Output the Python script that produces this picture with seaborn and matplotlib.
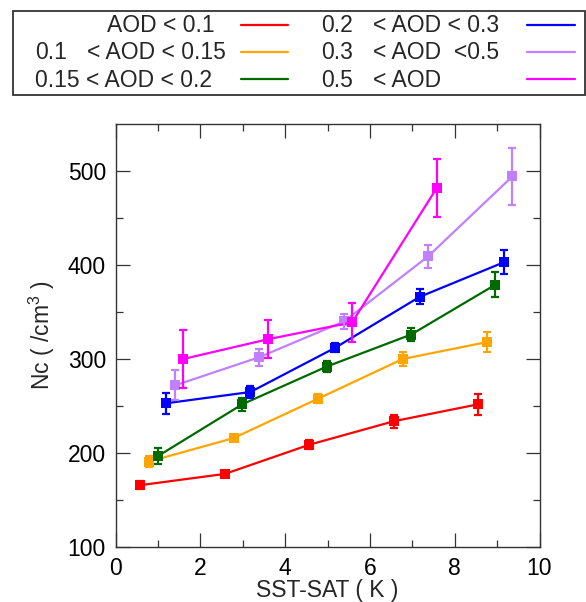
import matplotlib
matplotlib.use("Agg")
import matplotlib.pyplot as plt
from matplotlib.lines import Line2D
from matplotlib.patches import Rectangle
import numpy as np
import pandas as pd
import seaborn as sns

# Nc versus SST-SAT, binned by aerosol optical depth
groups = ["AOD < 0.1", "0.1 < AOD < 0.15", "0.15 < AOD < 0.2",
          "0.2 < AOD < 0.3", "0.3 < AOD < 0.5", "0.5 < AOD"]
colors = ["#ff0000", "#ffa500", "#006a00", "#0000ff", "#c080ff", "#ff00ff"]

sst_sat = [
    [0.58, 2.58, 4.57, 6.57, 8.56],
    [0.78, 2.78, 4.78, 6.77, 8.76],
    [1.00, 2.99, 4.98, 6.97, 8.96],
    [1.19, 3.18, 5.18, 7.17, 9.17],
    [1.40, 3.39, 5.39, 7.37, 9.36],
    [1.59, 3.59, 5.58, 7.58],
]
nc = [
    [166, 178, 209, 234, 252],
    [191, 216, 258, 300, 318],
    [197, 252, 292, 326, 379],
    [253, 265, 312, 366, 403],
    [272, 302, 340, 409, 494],
    [300, 321, 339, 482],
]
nc_err = [
    [4, 3, 5, 7, 11],
    [6, 3, 5, 7, 11],
    [8, 7, 6, 7, 13],
    [11, 6, 5, 8, 13],
    [16, 9, 8, 12, 30],
    [31, 20, 21, 31],
]

# legend text, split into the AOD lower bound and the rest of the range
legend_left = ["", "0.1", "0.15 < AOD < 0.2", "0.2", "0.3", "0.5"]
legend_right = ["AOD < 0.1", "< AOD < 0.15", "", "< AOD < 0.3", "< AOD  <0.5", "< AOD"]

xticks = [0, 2, 4, 6, 8, 10]
yticks = [100, 200, 300, 400, 500]

sns.set_theme(style="ticks")
plt.rcParams["font.family"] = ["Liberation Sans", "DejaVu Sans"]
plt.rcParams["mathtext.default"] = "regular"

W, H = 586, 602
fig = plt.figure(figsize=(W / 100, H / 100), dpi=100)
ax_bottom, ax_top = 547.3, 123.7
ax = fig.add_axes([115.7 / W, 1 - ax_bottom / H, (539.5 - 115.7) / W,
                   (ax_bottom - ax_top) / H])

rows = []
for g, xs, ys in zip(groups, sst_sat, nc):
    for xv, yv in zip(xs, ys):
        rows.append({"sst_sat": xv, "nc": yv, "group": g})
df = pd.DataFrame(rows)

sns.lineplot(data=df, x="sst_sat", y="nc", hue="group", hue_order=groups,
             palette=dict(zip(groups, colors)), estimator=None, sort=False,
             marker="s", markersize=6.5, markeredgewidth=0, linewidth=1.6,
             legend=False, ax=ax)

for xs, ys, es, c in zip(sst_sat, nc, nc_err, colors):
    ax.errorbar(xs, ys, yerr=es, fmt="none", ecolor=c, elinewidth=1.6,
                capsize=3, capthick=1.6)

ax.set_xlim(0, 10)
ax.set_ylim(100, 550)
ax.set_xticks(xticks)
ax.set_yticks(yticks)
ax.set_xticks(np.arange(1, 10, 2), minor=True)
ax.set_yticks(np.arange(150, 550, 100), minor=True)

spine_c = "#333333"
for s in ax.spines.values():
    s.set_color(spine_c)
    s.set_linewidth(1.0)
ax.tick_params(which="both", direction="in", top=True, right=True,
               color=spine_c, width=0.9, labelsize=16.5, labelcolor="black")
ax.tick_params(which="major", length=10, pad=7)
ax.tick_params(which="minor", length=5)

ax.set_xlabel("SST-SAT ( K )", fontsize=16.5)
ax.xaxis.label.set_va("baseline")
ax.xaxis.set_label_coords(0.5, -(596.5 - ax_bottom) / (ax_bottom - ax_top))
ax.set_ylabel("Nc ( /cm$^3$ )", fontsize=16.5, labelpad=8)

# legend box across the top of the figure
def fx(px):
    return px / W

def fy(py):
    return 1 - py / H

fig.add_artist(Rectangle((fx(12.7), fy(95)), fx(584.5) - fx(12.7), fy(10.7) - fy(95),
                         transform=fig.transFigure, fill=False,
                         edgecolor=spine_c, linewidth=1.3))

baselines = [32.3, 59.3, 86.8]
for i, (lt, rt, c) in enumerate(zip(legend_left, legend_right, colors)):
    col, row = divmod(i, 3)
    yb = baselines[row]
    if col == 0:
        if lt:
            fig.text(fx(35), fy(yb), lt, fontsize=16.5, va="baseline", ha="left")
        if rt:
            fig.text(fx(107 if i == 0 else 87), fy(yb), rt, fontsize=16.5,
                     va="baseline", ha="left")
        x0, x1 = 241, 288
    else:
        fig.text(fx(321), fy(yb), lt, fontsize=16.5, va="baseline", ha="left")
        fig.text(fx(373), fy(yb), rt, fontsize=16.5, va="baseline", ha="left")
        x0, x1 = 527, 575
    ymid = yb - 7.5
    fig.add_artist(Line2D([fx(x0), fx(x1)], [fy(ymid), fy(ymid)],
                          transform=fig.transFigure, color=c, linewidth=1.6))

fig.savefig("out.png", dpi=100)
